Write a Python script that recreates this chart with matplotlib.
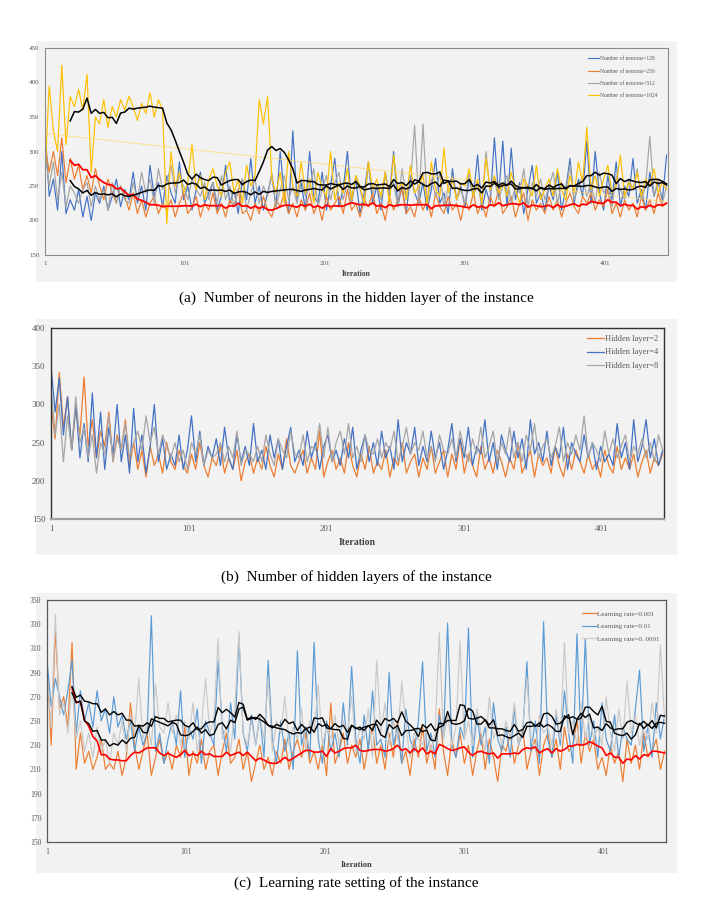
import numpy as np
import pandas as pd
import matplotlib
matplotlib.use('Agg')
import matplotlib.pyplot as plt
from matplotlib.patches import Rectangle

plt.rcParams['font.family'] = ['Liberation Serif', 'DejaVu Serif']

# ---------------- data ----------------
iterations = list(range(1, 446, 3))
x_ticks = [1, 101, 201, 301, 401]

# (a) number of neurons
labels_a = ['Number of neurons=128', 'Number of neurons=256',
            'Number of neurons=512', 'Number of neurons=1024']
neurons_128 = [
    335, 235, 260, 215, 300, 210, 230, 215, 245, 205,
    235, 200, 240, 225, 250, 215, 235, 260, 220, 245,
    230, 270, 225, 250, 215, 280, 235, 255, 220, 265,
    240, 225, 285, 230, 250, 215, 245, 270, 225, 240,
    255, 215, 235, 280, 225, 245, 210, 260, 230, 290,
    225, 250, 215, 240, 265, 220, 300, 235, 210, 330,
    230, 255, 215, 300, 235, 225, 270, 215, 250, 290,
    220, 245, 300, 225, 260, 210, 240, 285, 225, 250,
    215, 270, 235, 300, 220, 250, 210, 265, 240, 225,
    255, 215, 245, 290, 225, 240, 210, 275, 230, 250,
    220, 260, 235, 295, 215, 245, 225, 320, 235, 315,
    220, 305, 230, 255, 210, 245, 280, 225, 240, 215,
    250, 230, 270, 215, 245, 290, 225, 260, 235, 315,
    225, 300, 240, 215, 265, 230, 285, 220, 250, 235,
    290, 225, 245, 215, 270, 235, 255, 230, 295]
neurons_256 = [
    310, 270, 300, 265, 320, 255, 290, 260, 280, 245,
    265, 240, 275, 250, 230, 260, 240, 225, 250, 235,
    215, 240, 210, 230, 205, 225, 235, 210, 225, 215,
    230, 205, 225, 240, 210, 220, 235, 205, 225, 215,
    240, 210, 225, 205, 230, 220, 245, 210, 215, 200,
    225, 210, 235, 215, 205, 230, 220, 240, 210, 225,
    205, 230, 215, 240, 210, 225, 200, 235, 215, 225,
    235, 210, 245, 215, 225, 205, 230, 220, 240, 210,
    225, 200, 235, 215, 230, 245, 210, 220, 205, 235,
    215, 230, 205, 240, 220, 210, 235, 215, 225, 200,
    230, 215, 240, 210, 225, 205, 235, 220, 245, 210,
    220, 235, 205, 225, 240, 200, 230, 215, 225, 210,
    235, 215, 230, 205, 225, 240, 220, 210, 235, 225,
    240, 215, 230, 220, 245, 210, 225, 205, 230, 215,
    225, 205, 235, 215, 230, 210, 240, 220, 225]
neurons_512 = [
    300, 250, 285, 230, 270, 220, 250, 240, 225, 245,
    255, 220, 250, 230, 245, 215, 255, 225, 250, 230,
    225, 255, 230, 270, 240, 260, 225, 275, 245, 255,
    280, 240, 265, 250, 230, 260, 245, 235, 255, 230,
    255, 225, 265, 230, 250, 220, 245, 260, 215, 240,
    260, 225, 250, 235, 270, 220, 245, 265, 230, 250,
    225, 260, 235, 250, 275, 220, 245, 265, 230, 255,
    270, 230, 255, 225, 265, 245, 220, 280, 240, 250,
    230, 265, 240, 255, 220, 275, 235, 250, 338, 225,
    340, 225, 260, 235, 270, 220, 250, 265, 230, 245,
    225, 270, 235, 255, 220, 300, 240, 260, 230, 250,
    265, 225, 250, 240, 275, 220, 255, 235, 260, 230,
    250, 270, 225, 255, 240, 280, 230, 250, 265, 235,
    255, 225, 270, 240, 250, 220, 265, 245, 230, 260,
    245, 275, 230, 250, 322, 235, 260, 225, 250]
neurons_1024 = [
    270, 395, 330, 300, 425, 310, 380, 365, 390, 360,
    412, 270, 350, 340, 375, 335, 365, 350, 375, 360,
    380, 365, 345, 370, 355, 385, 350, 375, 360, 195,
    300, 250, 270, 240, 255, 310, 245, 265, 230, 260,
    275, 250, 235, 270, 285, 240, 260, 225, 280, 250,
    265, 375, 340, 380, 260, 240, 270, 225, 300, 250,
    235, 285, 240, 260, 225, 270, 245, 235, 300, 230,
    255, 240, 275, 230, 265, 250, 225, 285, 245, 260,
    235, 270, 225, 295, 245, 255, 230, 280, 240, 250,
    265, 225, 285, 245, 235, 305, 240, 260, 230, 255,
    250, 275, 235, 260, 225, 290, 245, 265, 240, 255,
    235, 270, 245, 225, 260, 250, 235, 280, 230, 245,
    260, 235, 275, 245, 230, 265, 240, 285, 255, 335,
    245, 265, 235, 260, 280, 240, 250, 295, 235, 255,
    245, 270, 235, 260, 250, 275, 240, 255, 245]

# (b) number of hidden layers
labels_b = ['Hidden layer=2', 'Hidden layer=4', 'Hidden layer=8']
layers_2 = [
    300, 255, 342, 270, 310, 240, 295, 260, 336, 245,
    280, 230, 265, 245, 290, 225, 260, 240, 280, 220,
    250, 215, 240, 205, 245, 220, 235, 210, 250, 225,
    215, 240, 220, 210, 235, 215, 250, 220, 205, 230,
    220, 245, 210, 230, 215, 240, 200, 225, 235, 210,
    230, 215, 245, 220, 205, 235, 215, 255, 220, 210,
    225, 240, 210, 230, 215, 265, 205, 225, 240, 215,
    230, 210, 250, 220, 205, 235, 215, 245, 210, 225,
    215, 240, 205, 230, 220, 250, 210, 225, 235, 205,
    230, 215, 245, 210, 225, 240, 205, 235, 215, 255,
    210, 235, 220, 205, 245, 215, 230, 210, 240, 225,
    205, 230, 215, 250, 210, 225, 240, 205, 235, 220,
    230, 210, 245, 220, 205, 235, 215, 240, 225, 210,
    235, 215, 225, 205, 240, 220, 210, 245, 215, 230,
    215, 235, 205, 225, 240, 210, 230, 220, 235]
layers_4 = [
    350, 290, 335, 260, 310, 240, 300, 230, 275, 225,
    315, 230, 290, 215, 270, 235, 300, 225, 260, 210,
    295, 225, 260, 210, 245, 300, 225, 255, 215, 235,
    220, 260, 215, 240, 285, 225, 265, 220, 245, 230,
    255, 220, 270, 230, 215, 260, 225, 245, 220, 275,
    225, 240, 215, 260, 230, 255, 215, 245, 270, 225,
    240, 220, 265, 230, 250, 215, 245, 260, 225, 240,
    220, 255, 230, 270, 215, 240, 260, 225, 250, 220,
    265, 230, 245, 215, 280, 225, 250, 235, 270, 220,
    245, 225, 265, 230, 250, 215, 240, 275, 225, 255,
    230, 270, 220, 245, 235, 280, 225, 250, 215, 260,
    240, 225, 265, 230, 255, 215, 280, 235, 250, 225,
    265, 220, 245, 230, 270, 215, 250, 235, 225, 260,
    230, 250, 215, 245, 225, 235, 220, 275, 230, 250,
    215, 280, 225, 245, 280, 230, 255, 220, 240]
layers_8 = [
    320, 260, 300, 225, 285, 240, 310, 250, 270, 230,
    260, 210, 250, 235, 285, 225, 255, 240, 275, 230,
    250, 265, 240, 285, 250, 270, 235, 260, 245, 230,
    250, 225, 240, 215, 250, 235, 260, 220, 240, 230,
    235, 250, 225, 245, 230, 265, 220, 240, 235, 225,
    245, 225, 260, 235, 220, 255, 240, 230, 265, 235,
    230, 260, 225, 245, 240, 275, 230, 270, 225, 250,
    265, 235, 275, 230, 245, 225, 260, 240, 235, 255,
    230, 250, 240, 265, 225, 245, 270, 235, 250, 240,
    265, 230, 245, 225, 260, 240, 235, 255, 230, 265,
    240, 225, 255, 235, 270, 230, 245, 265, 225, 250,
    235, 270, 230, 250, 225, 260, 240, 275, 230, 245,
    255, 230, 245, 270, 225, 250, 235, 260, 240, 285,
    230, 250, 240, 225, 265, 235, 255, 230, 245, 260,
    225, 245, 235, 255, 230, 250, 225, 260, 240]

# (c) learning rate
labels_c = ['Learning rate=0.001', 'Learning rate=0.01', 'Learning rate=0. 0001']
lr_0001 = [
    300, 230, 325, 260, 270, 245, 315, 210, 240, 215,
    225, 210, 220, 235, 210, 215, 210, 225, 205, 220,
    265, 230, 210, 225, 240, 205, 220, 235, 215, 225,
    210, 230, 220, 245, 205, 225, 215, 235, 210, 225,
    230, 205, 225, 240, 215, 220, 235, 210, 225, 200,
    215, 230, 210, 220, 205, 225, 215, 235, 210, 225,
    235, 220, 240, 215, 225, 210, 230, 205, 265, 215,
    225, 240, 215, 230, 220, 235, 210, 230, 245, 215,
    230, 210, 240, 220, 250, 215, 225, 205, 235, 220,
    245, 215, 230, 210, 260, 225, 205, 235, 220, 240,
    215, 230, 205, 225, 240, 210, 235, 220, 200, 230,
    225, 240, 215, 230, 245, 210, 225, 235, 205, 230,
    240, 220, 235, 210, 245, 225, 230, 250, 215, 240,
    225, 235, 210, 220, 205, 230, 215, 225, 200, 235,
    215, 230, 210, 240, 220, 225, 235, 210, 225]
lr_001 = [
    300, 262, 285, 270, 255, 275, 300, 240, 275, 250,
    265, 245, 275, 250, 260, 240, 270, 245, 255, 235,
    250, 225, 245, 230, 240, 337, 225, 240, 215, 235,
    250, 230, 275, 220, 245, 235, 260, 215, 250, 240,
    230, 300, 245, 225, 265, 235, 320, 240, 225, 255,
    230, 255, 220, 300, 235, 215, 250, 225, 240, 210,
    308, 230, 245, 220, 315, 235, 215, 250, 225, 240,
    220, 265, 230, 295, 235, 215, 255, 225, 275, 230,
    235, 220, 290, 230, 245, 215, 260, 235, 225, 250,
    299, 225, 240, 220, 255, 235, 331, 230, 220, 245,
    235, 327, 220, 255, 230, 245, 215, 265, 235, 225,
    245, 220, 260, 230, 240, 299, 225, 250, 215, 332,
    235, 220, 255, 230, 275, 240, 215, 322, 230, 318,
    230, 250, 220, 265, 235, 225, 255, 220, 245, 235,
    230, 260, 292, 225, 245, 220, 265, 235, 255]
lr_00001 = [
    290, 245, 338, 255, 265, 240, 280, 235, 250, 225,
    240, 220, 245, 225, 235, 215, 240, 230, 250, 225,
    255, 240, 285, 235, 250, 230, 280, 245, 240, 265,
    240, 255, 230, 250, 235, 265, 225, 245, 285, 240,
    250, 318, 235, 245, 225, 260, 324, 240, 230, 250,
    230, 255, 235, 285, 225, 250, 240, 270, 230, 245,
    235, 260, 225, 250, 240, 280, 230, 245, 235, 255,
    230, 250, 240, 270, 225, 245, 235, 260, 220, 300,
    240, 265, 230, 250, 235, 283, 245, 220, 240, 235,
    230, 245, 225, 240, 323, 235, 255, 230, 245, 316,
    235, 250, 230, 260, 240, 225, 270, 235, 245, 230,
    250, 235, 265, 230, 245, 285, 235, 225, 255, 240,
    245, 230, 260, 235, 315, 240, 250, 230, 265, 235,
    255, 235, 245, 230, 270, 240, 225, 260, 235, 283,
    240, 255, 230, 245, 235, 265, 240, 313, 250]

captions = ['(a)  Number of neurons in the hidden layer of the instance',
            '(b)  Number of hidden layers of the instance',
            '(c)  Learning rate setting of the instance']
MA_WINDOW = 7  # samples (~20 iterations)

# ---------------- layout ----------------
W, H = 712, 908
fig = plt.figure(figsize=(W / 100, H / 100), dpi=100)
BG = '#F2F2F2'
TXT = '#595959'


def fbox(x0, y0, x1, y1):
    fig.patches.append(Rectangle((x0 / W, 1 - y1 / H), (x1 - x0) / W, (y1 - y0) / H,
                                 transform=fig.transFigure, facecolor=BG,
                                 edgecolor='none', zorder=-10))


def make_ax(x0, y0, x1, y1):
    ax = fig.add_axes([x0 / W, 1 - y1 / H, (x1 - x0) / W, (y1 - y0) / H])
    ax.set_zorder(5)
    return ax


def style(ax, ylim, yticks, fs, spine_col, lw, xlab_fs, xlab_pad):
    ax.set_facecolor(BG)
    ax.set_xlim(1, 446)
    ax.set_ylim(*ylim)
    ax.set_yticks(yticks)
    ax.set_xticks(x_ticks)
    ax.tick_params(length=0, labelsize=fs, labelcolor=TXT, pad=4)
    for s in ax.spines.values():
        s.set_color(spine_col)
        s.set_linewidth(lw)
    ax.set_xlabel('Iteration', fontsize=xlab_fs, fontweight='bold', color='#404040',
                  labelpad=xlab_pad)


def ma(values):
    return pd.Series(values, dtype=float).rolling(MA_WINDOW).mean()


def legend(ax, anchor, fs, spacing, hl):
    leg = ax.legend(loc='upper right', bbox_to_anchor=anchor, frameon=False,
                    fontsize=fs, labelspacing=spacing, handlelength=hl,
                    handletextpad=0.1, borderpad=0, borderaxespad=0)
    for t in leg.get_texts():
        t.set_color(TXT)


# ---- panel (a)
fbox(36, 41, 677, 282)
axa = make_ax(45, 48, 668, 255)
cols_a = ['#4472C4', '#ED7D31', '#A5A5A5', '#FFC000']
for vals, col, lab in zip([neurons_128, neurons_256, neurons_512, neurons_1024], cols_a, labels_a):
    axa.plot(iterations, vals, color=col, lw=0.85, label=lab)
trend = np.polyval(np.polyfit(iterations, neurons_1024, 1), iterations)
axa.plot(iterations, trend, color='#FFD966', lw=0.6, alpha=0.8)
axa.plot(iterations, ma(neurons_256), color='#FF0000', lw=1.3)
axa.plot(iterations, ma(neurons_512), color='black', lw=1.1)
axa.plot(iterations, ma(neurons_1024), color='black', lw=1.1)
style(axa, (150, 450), [150, 200, 250, 300, 350, 400, 450], 5, '#8C8C8C', 0.8, 5.5, 3)
legend(axa, (0.983, 0.96), 4, 1.3, 2.0)

# ---- panel (b)
fbox(36, 319, 677, 555)
axb = make_ax(51, 328, 664, 519)
cols_b = ['#ED7D31', '#4472C4', '#A5A5A5']
for vals, col, lab in zip([layers_2, layers_4, layers_8], cols_b, labels_b):
    axb.plot(iterations, vals, color=col, lw=0.9, label=lab)
style(axb, (150, 400), [150, 200, 250, 300, 350, 400], 6.5, '#303030', 1.0, 7, 4)
axb.spines['bottom'].set_color('#A0A0A0')
axb.spines['bottom'].set_linewidth(1.6)
legend(axb, (0.99, 0.962), 6, 0.62, 2.0)

# ---- panel (c)
fbox(36, 593, 677, 873)
axc = make_ax(47, 600, 666, 842)
cols_c = ['#ED7D31', '#5B9BD5', '#C9C9C9']
for vals, col, lab in zip([lr_0001, lr_001, lr_00001], cols_c, labels_c):
    axc.plot(iterations, vals, color=col, lw=0.85, label=lab)
axc.plot(iterations, ma(lr_0001), color='#FF0000', lw=1.2)
axc.plot(iterations, ma(lr_001), color='black', lw=1.0)
axc.plot(iterations, ma(lr_00001), color='black', lw=1.0)
style(axc, (150, 350), list(range(150, 351, 20)), 5.5, '#595959', 0.9, 6, 4)
legend(axc, (0.99, 0.955), 5, 0.95, 2.1)

# captions
for cap, y in zip(captions, [298, 577, 883]):
    fig.text(356 / W, 1 - y / H, cap, ha='center', va='center', fontsize=11, color='black')

fig.savefig('out.png', dpi=100, facecolor='white')
